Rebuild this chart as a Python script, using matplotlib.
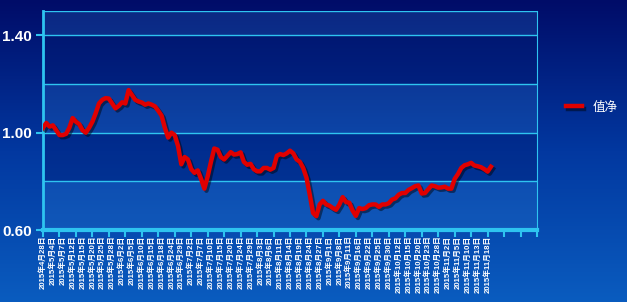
"""Fund NAV line chart (值净) on a blue gradient background."""

import matplotlib

matplotlib.use("Agg")
import matplotlib.pyplot as plt
import matplotlib.patheffects as pe
import numpy as np

# one value per trading day
nav = [
    1.02, 1.04, 1.025, 1.03, 1.01, 0.99, 0.99, 0.995, 1.02, 1.06,
    1.045, 1.035, 1.01, 1.0, 1.02, 1.045, 1.08, 1.12, 1.135, 1.142,
    1.14, 1.12, 1.1, 1.11, 1.125, 1.12, 1.175, 1.155, 1.135, 1.128,
    1.124, 1.115, 1.12, 1.115, 1.108, 1.09, 1.07, 1.02, 0.98, 1.0,
    0.99, 0.945, 0.87, 0.9, 0.89, 0.85, 0.835, 0.845, 0.81, 0.77,
    0.82, 0.88, 0.935, 0.93, 0.9, 0.89, 0.905, 0.92, 0.91, 0.912,
    0.919, 0.88, 0.868, 0.872, 0.85, 0.841, 0.841, 0.855, 0.855, 0.848,
    0.855, 0.905, 0.912, 0.908, 0.915, 0.926, 0.915, 0.89, 0.88, 0.855,
    0.815, 0.745, 0.67, 0.657, 0.705, 0.72, 0.705, 0.7, 0.69, 0.683,
    0.705, 0.735, 0.715, 0.712, 0.68, 0.658, 0.69, 0.686, 0.69, 0.702,
    0.705, 0.705, 0.695, 0.705, 0.705, 0.71, 0.725, 0.73, 0.745, 0.752,
    0.752, 0.765, 0.772, 0.78, 0.783, 0.75, 0.752, 0.768, 0.783, 0.78,
    0.774, 0.775, 0.778, 0.77, 0.77, 0.81, 0.83, 0.855, 0.866, 0.87,
    0.876, 0.865, 0.862, 0.858, 0.85, 0.84, 0.86,
]

# every third trading day is labelled
date_labels = [
    "2015年4月28日", "2015年5月4日", "2015年5月7日", "2015年5月12日",
    "2015年5月15日", "2015年5月20日", "2015年5月25日", "2015年5月28日",
    "2015年6月2日", "2015年6月5日", "2015年6月10日", "2015年6月15日",
    "2015年6月18日", "2015年6月24日", "2015年6月29日", "2015年7月2日",
    "2015年7月7日", "2015年7月10日", "2015年7月15日", "2015年7月20日",
    "2015年7月24日", "2015年7月29日", "2015年8月3日", "2015年8月6日",
    "2015年8月11日", "2015年8月14日", "2015年8月19日", "2015年8月24日",
    "2015年8月27日", "2015年9月1日", "2015年9月8日", "2015年9月11日",
    "2015年9月16日", "2015年9月22日", "2015年9月25日", "2015年9月30日",
    "2015年10月12日", "2015年10月15日", "2015年10月20日", "2015年10月23日",
    "2015年10月28日", "2015年11月2日", "2015年11月5日", "2015年11月10日",
    "2015年11月13日", "2015年11月18日",
]
label_step = 3
series_name = "值净"
y_ticks = [0.60, 1.00, 1.40]
grid_levels = [0.80, 1.20, 1.50]

CYAN = "#2ec4f0"
plt.rcParams["font.family"] = ["Liberation Sans", "Noto Sans CJK SC", "DejaVu Sans"]

fig = plt.figure(figsize=(6.27, 3.02), dpi=100)

# background gradient for the whole figure
bg = fig.add_axes([0, 0, 1, 1], zorder=-10)
grad = np.linspace(0, 1, 256).reshape(-1, 1)
cmap = matplotlib.colors.LinearSegmentedColormap.from_list(
    "bg", ["#000c68", "#0238a0", "#0a5cbf"]
)
bg.imshow(grad, aspect="auto", cmap=cmap, extent=[0, 1, 0, 1], origin="upper")
bg.axis("off")

ax = fig.add_axes([43 / 627, 72 / 302, 494 / 627, 219 / 302])
ax.patch.set_alpha(0)

# alternating bands inside the plot area
bands = [0.60, 0.80, 1.00, 1.20, 1.40, 1.50]
for i in range(len(bands) - 1):
    if i % 2 == 0:
        ax.axhspan(bands[i], bands[i + 1], color="#3a8ee0", alpha=0.2, lw=0, zorder=0)
    else:
        ax.axhspan(bands[i], bands[i + 1], color="#001a70", alpha=0.35, lw=0, zorder=0)

for lvl in y_ticks[1:] + grid_levels:
    ax.axhline(lvl, color=CYAN, lw=1.0, zorder=1)

x = np.arange(len(nav))
line, = ax.plot(x, nav, color="#e00000", lw=3.2, solid_joinstyle="round",
                zorder=3, label=series_name)
line.set_path_effects([
    pe.SimpleLineShadow(offset=(1.5, -1.5), shadow_color="black", alpha=0.45),
    pe.Normal(),
])

ax.set_xlim(0, 150)
ax.set_ylim(0.60, 1.50)

ax.set_yticks(y_ticks)
ax.set_yticklabels([f"{v:.2f}" for v in y_ticks])
ax.tick_params(axis="y", colors=CYAN, length=5, width=1.5, pad=3,
               labelcolor="white", labelsize=11)
for lab in ax.get_yticklabels():
    lab.set_fontweight("bold")

# tick marks every 5 days, labels every 3 days
ax.xaxis.remove_overlapping_locs = False
ax.set_xticks(np.arange(0, 151, 5))
ax.set_xticklabels([])
ax.tick_params(axis="x", which="major", colors=CYAN, length=5, width=1.5)
label_pos = np.arange(len(date_labels)) * label_step
ax.set_xticks(label_pos, minor=True)
ax.set_xticklabels(date_labels, minor=True, rotation=90, fontsize=5.6,
                   color="white", fontweight="bold",
                   family=["Liberation Sans", "Noto Sans CJK SC"])
ax.tick_params(axis="x", which="minor", length=0, pad=4)

for side in ["left", "bottom"]:
    ax.spines[side].set_color(CYAN)
ax.spines["left"].set_linewidth(2)
ax.spines["bottom"].set_linewidth(3)
ax.spines["right"].set_color(CYAN)
ax.spines["right"].set_linewidth(0.8)
ax.spines["top"].set_visible(False)

leg = ax.legend(loc="center left", bbox_to_anchor=(1.035, 0.56), frameon=False,
                handlelength=1.3, handletextpad=0.9,
                prop={"family": ["Noto Sans CJK SC"], "size": 9})
for t in leg.get_texts():
    t.set_color("white")

fig.savefig("out.png", dpi=100)
